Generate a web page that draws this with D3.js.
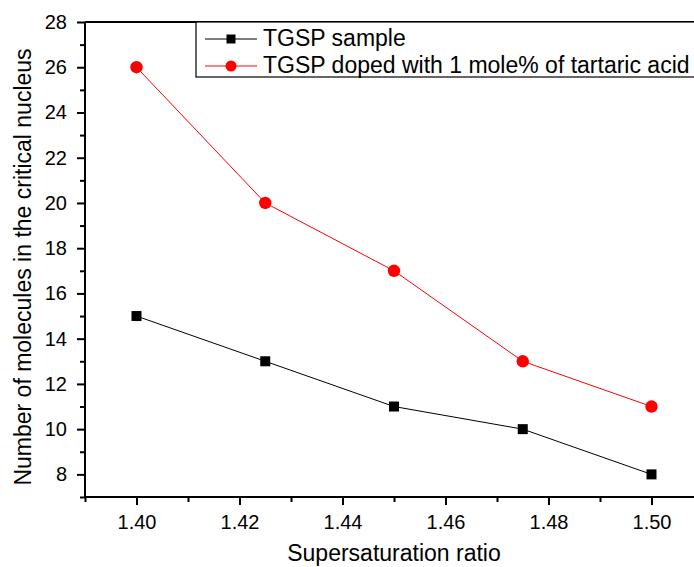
<!DOCTYPE html>
<html><head><meta charset="utf-8">
<script src="https://cdn.jsdelivr.net/npm/d3@7"></script>
<style>body{margin:0;background:#fff}svg{display:block}text{font-family:"Liberation Sans",Arial,sans-serif;fill:#000}</style>
</head><body>
<script>
const xValues = [1.40, 1.425, 1.45, 1.475, 1.50];
const tgspSample = [15, 13, 11, 10, 8];
const tgspDoped = [26, 20, 17, 13, 11];
const xTickLabels = ["1.40","1.42","1.44","1.46","1.48","1.50"];
const yTickValues = [8,10,12,14,16,18,20,22,24,26,28];
const seriesNames = ["TGSP sample","TGSP doped with 1 mole% of tartaric acid"];

const W=694,H=567;
const svg=d3.select("body").append("svg").attr("width",W).attr("height",H);
const x=d3.scaleLinear().domain([1.39,1.51]).range([85,703]);
const y=d3.scaleLinear().domain([7,28]).range([497,22]);

// frame top
svg.append("line").attr("x1",85).attr("x2",W).attr("y1",22).attr("y2",22).attr("stroke","#000").attr("stroke-width",2);

// x axis
const xMajor=xTickLabels.map(Number);
const xMinor=d3.range(0,7).map(i=>+(1.39+i*0.02).toFixed(2));
const gx=svg.append("g").attr("transform","translate(0,497)");
gx.call(d3.axisBottom(x).tickValues(xMajor).tickFormat((d,i)=>xTickLabels[i]).tickSize(8).tickPadding(10));
gx.append("g").call(d3.axisBottom(x).tickValues(xMinor).tickSize(5).tickFormat(""));
gx.selectAll("line").attr("stroke-width",2);
gx.selectAll("text").style("font-size","20px");
gx.selectAll(".domain").attr("d","M85,0H"+W).attr("stroke-width",2);

// y axis
const yMinor=d3.range(7,29,2);
const gy=svg.append("g").attr("transform","translate(85,0)");
gy.call(d3.axisLeft(y).tickValues(yTickValues).tickSize(8).tickPadding(10));
gy.append("g").call(d3.axisLeft(y).tickValues(yMinor).tickSize(5).tickFormat(""));
gy.selectAll(".domain").attr("stroke-width",2).attr("d","M0,22V497");
gy.selectAll("line").attr("stroke-width",2);
gy.selectAll("text").style("font-size","20px");

// axis titles
svg.append("text").attr("x",394).attr("y",561).attr("text-anchor","middle").style("font-size","23px").text("Supersaturation ratio");
svg.append("text").attr("transform","translate(31,267) rotate(-90)").attr("text-anchor","middle").style("font-size","23px").text("Number of molecules in the critical nucleus");

// lines
const line=d3.line().x((d,i)=>x(xValues[i])).y(d=>y(d));
svg.append("path").datum(tgspSample).attr("d",line).attr("fill","none").attr("stroke","#000").attr("stroke-width",1);
svg.append("path").datum(tgspDoped).attr("d",line).attr("fill","none").attr("stroke","#ff0000").attr("stroke-width",1);
const s=10;
svg.selectAll(".sq").data(tgspSample).enter().append("rect")
 .attr("x",(d,i)=>x(xValues[i])-s/2).attr("y",d=>y(d)-s/2).attr("width",s).attr("height",s).attr("fill","#000");
svg.selectAll(".ci").data(tgspDoped).enter().append("circle")
 .attr("cx",(d,i)=>x(xValues[i])).attr("cy",d=>y(d)).attr("r",6.2).attr("fill","#ff0000");

// legend
const lg=svg.append("g");
lg.append("rect").attr("x",196).attr("y",22).attr("width",520).attr("height",55).attr("fill","#fff").attr("stroke","#000").attr("stroke-width",1.2);
const rows=[{y:39,color:"#000",shape:"sq"},{y:66,color:"#ff0000",shape:"ci"}];
rows.forEach((r,i)=>{
 lg.append("line").attr("x1",205).attr("x2",257).attr("y1",r.y).attr("y2",r.y).attr("stroke",r.color).attr("stroke-width",1);
 if(r.shape==="sq") lg.append("rect").attr("x",231-4.5).attr("y",r.y-4.5).attr("width",9).attr("height",9).attr("fill",r.color);
 else lg.append("circle").attr("cx",231).attr("cy",r.y).attr("r",5.5).attr("fill",r.color);
 lg.append("text").attr("x",263).attr("y",r.y+7).style("font-size","23px").text(seriesNames[i]);
});
</script>
</body></html>
